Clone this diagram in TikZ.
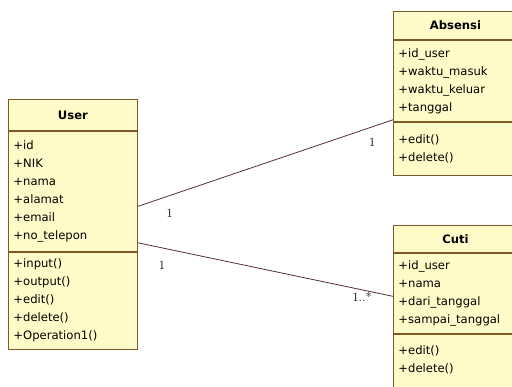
\documentclass[tikz,border=0pt]{standalone}
\usepackage{fontspec}
\setsansfont{DejaVu Sans}
\usetikzlibrary{positioning}
\definecolor{umlfill}{RGB}{255,251,200}
\definecolor{umlborder}{RGB}{128,88,40}
\definecolor{umlline}{RGB}{85,45,55}
\begin{document}
\begin{tikzpicture}[x=1pt, y=-1pt,
  box/.style={draw=umlborder, fill=umlfill, line width=0.9pt, anchor=north west, inner xsep=5pt, inner ysep=0pt},
  head/.style={box, font=\sffamily\bfseries\fontsize{11.6}{14}\selectfont, align=center},
  body/.style={box, font=\sffamily\fontsize{11.6}{18}\selectfont, align=left},
  assoc/.style={draw=umlline, line width=0.8pt},
  mult/.style={font=\fontsize{12.5}{14}\selectfont, inner sep=0pt}]
\useasboundingbox (0,0) rectangle (512,387);
\clip (0,0) rectangle (512,387);

% class User
\node [head, text width=119pt, minimum height=31pt] (user head) at (8,99) {User};
\node [body, text width=119pt, minimum height=120pt, below=0pt of user head.south west, anchor=north west] (user attr)
  {+id\\+NIK\\+nama\\+alamat\\+email\\+no\_telepon};
\node [body, text width=119pt, minimum height=97pt, below=0pt of user attr.south west, anchor=north west] (user ops)
  {+input()\\+output()\\+edit()\\+delete()\\+Operation1()};

% class Absensi
\node [head, text width=114pt, minimum height=28pt] (absensi head) at (393,11) {Absensi};
\node [body, text width=114pt, minimum height=81pt, below=0pt of absensi head.south west, anchor=north west] (absensi attr)
  {+id\_user\\+waktu\_masuk\\+waktu\_keluar\\+tanggal};
\node [body, text width=114pt, minimum height=53pt, below=0pt of absensi attr.south west, anchor=north west] (absensi ops)
  {+edit()\\+delete()};

% class Cuti
\node [head, text width=114pt, minimum height=27pt] (cuti head) at (393,225) {Cuti};
\node [body, text width=114pt, minimum height=80pt, below=0pt of cuti head.south west, anchor=north west] (cuti attr)
  {+id\_user\\+nama\\+dari\_tanggal\\+sampai\_tanggal};
\node [body, text width=114pt, text height=20pt, text depth=60pt, below=0pt of cuti attr.south west, anchor=north west] (cuti ops)
  {+edit()\\+delete()};

% associations
\draw [assoc] ([yshift=-15pt]user attr.east) -- ([yshift=2pt]absensi attr.south west)
  node [mult, pos=0.125, below=13pt] {1}
  node [mult, pos=0.918, below=11pt] {1};
\draw [assoc] ([yshift=9pt]user attr.south east) -- ([yshift=-3pt]cuti attr.west)
  node [mult, pos=0.094, below=13pt] {1}
  node [mult, pos=0.879, below=2pt] {1..*};
\end{tikzpicture}
\end{document}
